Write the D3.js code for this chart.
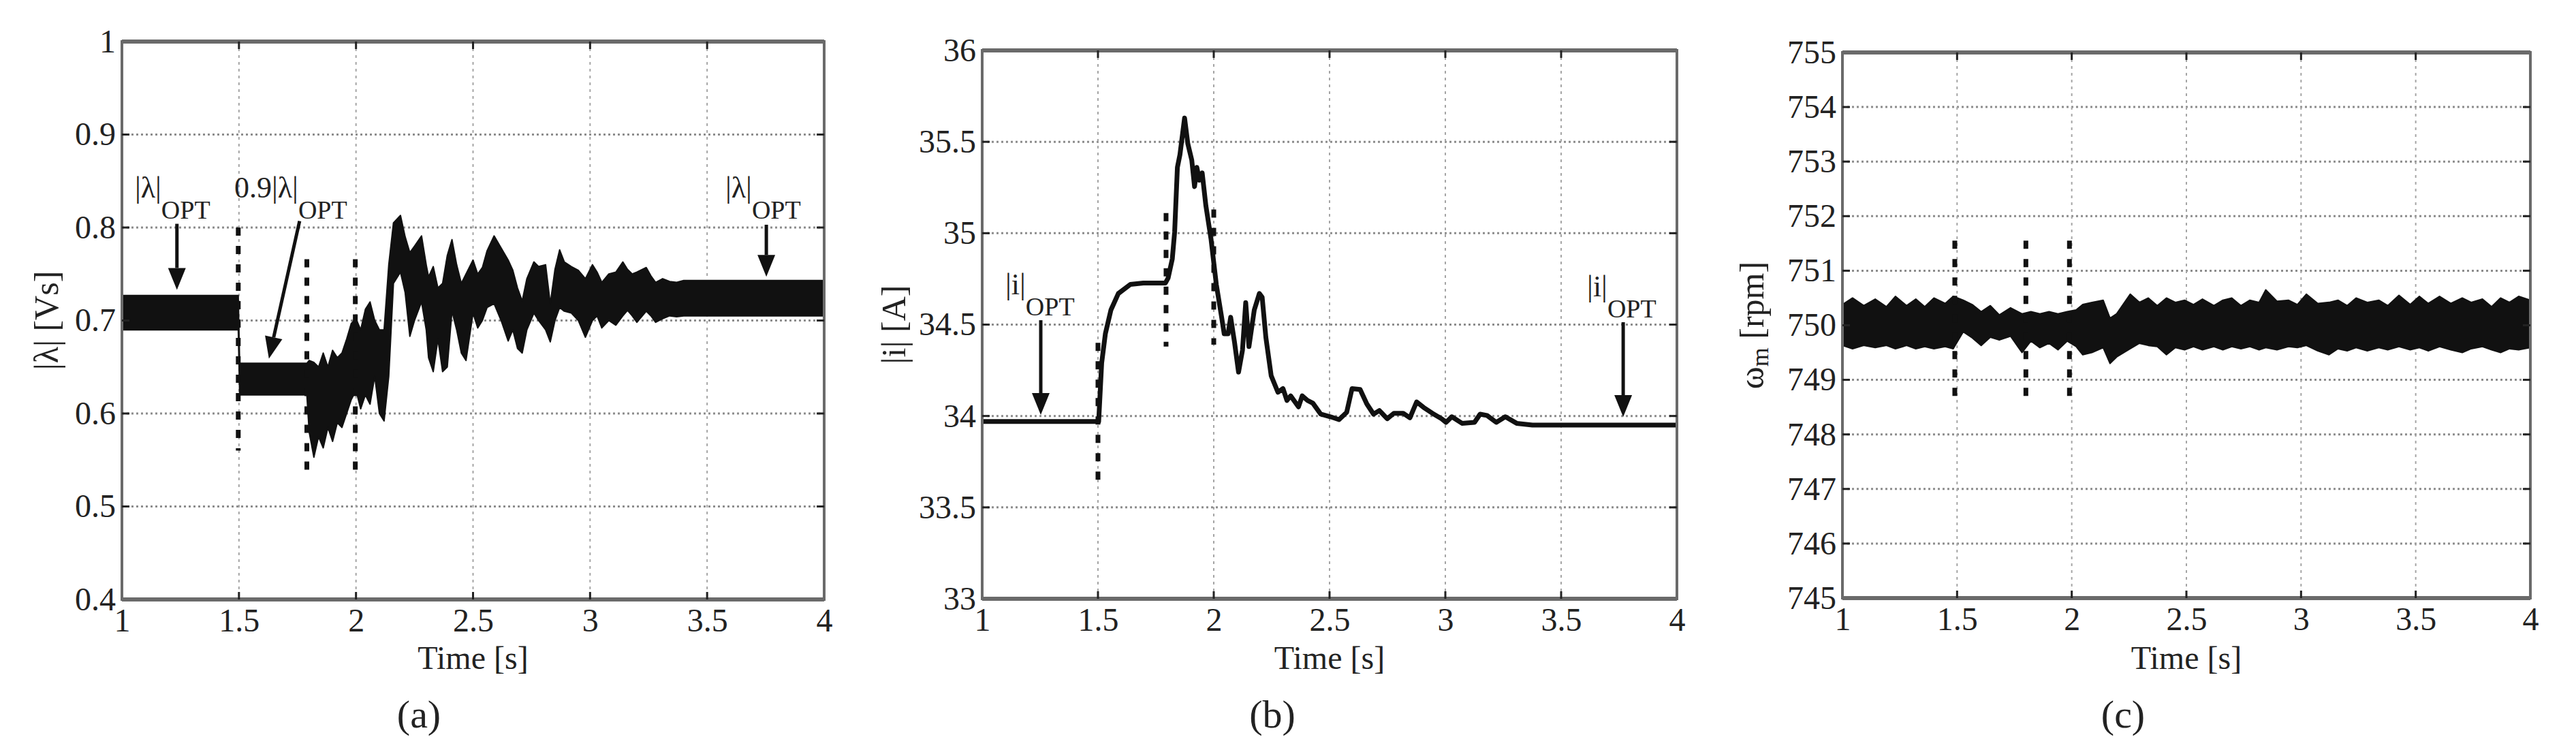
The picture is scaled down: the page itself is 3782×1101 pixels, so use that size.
<!DOCTYPE html>
<html>
<head>
<meta charset="utf-8">
<script src="https://cdn.jsdelivr.net/npm/d3@7"></script>
<style>
  body { margin: 0; background: #fff; }
  svg { display: block; font-family: "Liberation Serif", "Times New Roman", serif; }
</style>
</head>
<body>
<svg id="fig" width="3782" height="1101"></svg>
<script>
// ---- data ----
const timeTicks = [1, 1.5, 2, 2.5, 3, 3.5, 4];
const fluxTicks = [0.4, 0.5, 0.6, 0.7, 0.8, 0.9, 1];
const currentTicks = [33, 33.5, 34, 34.5, 35, 35.5, 36];
const speedTicks = [745, 746, 747, 748, 749, 750, 751, 752, 753, 754, 755];
const panelNames = ["(a)", "(b)", "(c)"];

// (a) flux magnitude: lower / upper envelope of the ripple band
const fluxTime = [1.00, 1.497, 1.503, 1.79, 1.80, 1.82, 1.84, 1.86, 1.88, 1.90, 1.92, 1.94, 1.96, 1.98, 2.00, 2.02, 2.04, 2.06, 2.08, 2.10,
  2.12, 2.14, 2.16, 2.19, 2.21, 2.23, 2.25, 2.28, 2.30, 2.31, 2.33, 2.35, 2.37, 2.39, 2.41, 2.43, 2.45, 2.47, 2.50, 2.52,
  2.54, 2.56, 2.59, 2.62, 2.65, 2.67, 2.69, 2.71, 2.73, 2.76, 2.78, 2.81, 2.83, 2.85, 2.87, 2.89, 2.92, 2.95, 2.98, 3.01,
  3.03, 3.05, 3.08, 3.11, 3.14, 3.16, 3.18, 3.20, 3.24, 3.26, 3.28, 3.31, 3.34, 3.37, 3.40, 4.00];
const fluxLow = [0.690, 0.690, 0.620, 0.620, 0.580, 0.553, 0.575, 0.563, 0.585, 0.570, 0.590, 0.585, 0.600, 0.615, 0.625, 0.605, 0.620, 0.610, 0.640, 0.600,
  0.592, 0.640, 0.740, 0.752, 0.730, 0.683, 0.700, 0.720, 0.690, 0.660, 0.645, 0.680, 0.645, 0.650, 0.710, 0.690, 0.665, 0.657, 0.708, 0.692,
  0.700, 0.714, 0.718, 0.700, 0.678, 0.690, 0.670, 0.665, 0.690, 0.708, 0.700, 0.690, 0.677, 0.700, 0.714, 0.710, 0.708, 0.700, 0.682, 0.700,
  0.705, 0.692, 0.700, 0.695, 0.705, 0.711, 0.705, 0.698, 0.710, 0.705, 0.698, 0.702, 0.705, 0.704, 0.705, 0.705];
const fluxHigh = [0.727, 0.727, 0.654, 0.654, 0.657, 0.655, 0.650, 0.665, 0.650, 0.668, 0.660, 0.665, 0.680, 0.697, 0.702, 0.690, 0.712, 0.720, 0.700, 0.690,
  0.690, 0.760, 0.805, 0.813, 0.790, 0.773, 0.780, 0.791, 0.760, 0.747, 0.758, 0.735, 0.740, 0.770, 0.787, 0.760, 0.740, 0.750, 0.765, 0.750,
  0.757, 0.775, 0.791, 0.778, 0.765, 0.754, 0.735, 0.721, 0.745, 0.763, 0.758, 0.760, 0.718, 0.755, 0.776, 0.763, 0.758, 0.754, 0.745, 0.760,
  0.752, 0.741, 0.750, 0.752, 0.763, 0.755, 0.750, 0.752, 0.757, 0.748, 0.741, 0.745, 0.742, 0.741, 0.743, 0.743];

// (b) current magnitude
const currentTime = [1.0, 1.497, 1.503, 1.516, 1.532, 1.556, 1.588, 1.64, 1.696, 1.791, 1.803, 1.821, 1.831, 1.843, 1.854, 1.874, 1.888, 1.905, 1.917, 1.927,
  1.938, 1.95, 1.966, 1.988, 2.011, 2.034, 2.045, 2.062, 2.073, 2.09, 2.107, 2.124, 2.138, 2.152, 2.175, 2.197, 2.209, 2.225, 2.248, 2.277,
  2.299, 2.316, 2.332, 2.366, 2.382, 2.405, 2.428, 2.462, 2.506, 2.541, 2.574, 2.597, 2.632, 2.661, 2.69, 2.715, 2.749, 2.778, 2.818, 2.847,
  2.876, 2.906, 2.944, 2.984, 3.003, 3.028, 3.072, 3.126, 3.15, 3.18, 3.22, 3.259, 3.308, 3.376, 4.0];
const currentValue = [33.97, 33.97, 33.97, 34.29, 34.45, 34.58, 34.67, 34.72, 34.727, 34.727, 34.755, 34.86, 35.005, 35.36, 35.43, 35.63, 35.49, 35.40, 35.255, 35.36,
  35.29, 35.33, 35.15, 34.97, 34.72, 34.54, 34.45, 34.45, 34.54, 34.40, 34.24, 34.36, 34.62, 34.38, 34.58, 34.67, 34.65, 34.43, 34.22, 34.13,
  34.15, 34.085, 34.11, 34.05, 34.11, 34.085, 34.07, 34.01, 33.995, 33.98, 34.02, 34.15, 34.145, 34.066, 34.01, 34.03, 33.985, 34.015, 34.015, 33.99,
  34.077, 34.047, 34.015, 33.985, 33.965, 33.996, 33.96, 33.965, 34.01, 34.003, 33.965, 33.996, 33.96, 33.95, 33.95];

// (c) rotor speed: lower / upper envelope of the noise band
const speedTime = [1.0, 1.044, 1.093, 1.143, 1.192, 1.231, 1.280, 1.320, 1.359, 1.399, 1.448, 1.483, 1.527, 1.566, 1.605, 1.645, 1.684, 1.733, 1.783, 1.822,
  1.861, 1.901, 1.940, 1.980, 2.019, 2.048, 2.088, 2.137, 2.167, 2.196, 2.255, 2.295, 2.334, 2.373, 2.413, 2.452, 2.492, 2.531, 2.570, 2.620,
  2.659, 2.698, 2.738, 2.777, 2.817, 2.846, 2.895, 2.945, 2.984, 3.023, 3.073, 3.122, 3.161, 3.201, 3.240, 3.289, 3.339, 3.378, 3.427, 3.476,
  3.516, 3.555, 3.604, 3.653, 3.703, 3.742, 3.791, 3.831, 3.870, 3.909, 3.949, 4.0];
const speedHigh = [750.38, 750.50, 750.36, 750.48, 750.34, 750.53, 750.36, 750.48, 750.34, 750.50, 750.40, 750.53, 750.46, 750.38, 750.25, 750.36, 750.19, 750.32, 750.21, 750.25,
  750.21, 750.25, 750.21, 750.25, 750.28, 750.38, 750.42, 750.46, 750.13, 750.21, 750.57, 750.42, 750.50, 750.36, 750.50, 750.42, 750.46, 750.38, 750.48, 750.36,
  750.46, 750.50, 750.36, 750.46, 750.42, 750.65, 750.44, 750.46, 750.38, 750.57, 750.40, 750.42, 750.46, 750.36, 750.50, 750.42, 750.46, 750.36, 750.55, 750.38,
  750.53, 750.40, 750.53, 750.40, 750.50, 750.42, 750.48, 750.34, 750.50, 750.42, 750.53, 750.46];
const speedLow = [749.63, 749.57, 749.63, 749.59, 749.63, 749.57, 749.63, 749.57, 749.61, 749.57, 749.61, 749.57, 749.88, 749.77, 749.63, 749.78, 749.73, 749.80, 749.50, 749.71,
  749.59, 749.67, 749.55, 749.71, 749.61, 749.46, 749.50, 749.59, 749.30, 749.42, 749.57, 749.67, 749.63, 749.61, 749.46, 749.59, 749.55, 749.61, 749.55, 749.61,
  749.55, 749.61, 749.57, 749.61, 749.55, 749.59, 749.55, 749.61, 749.59, 749.63, 749.53, 749.46, 749.57, 749.53, 749.59, 749.53, 749.59, 749.55, 749.61, 749.55,
  749.59, 749.53, 749.61, 749.55, 749.50, 749.57, 749.61, 749.55, 749.50, 749.57, 749.55, 749.59];

// event markers (thick dashed verticals): time, lower end, upper end
const fluxEventTime = [1.497, 1.79, 1.997];
const fluxEventLow = [0.56, 0.535, 0.535];
const fluxEventHigh = [0.80, 0.766, 0.766];
const currentEventTime = [1.5, 1.794, 2.0];
const currentEventLow = [33.65, 34.38, 34.39];
const currentEventHigh = [34.40, 35.11, 35.13];
const speedEventTime = [1.49, 1.80, 1.99];
const speedEventLow = [748.65, 748.65, 748.65];
const speedEventHigh = [751.55, 751.55, 751.55];

// annotations: text start (t, value), arrow (t, from, to)
const fluxNotes = [
  { main: "|λ|", sub: "OPT", t: 1.055, v: 0.832, at: 1.235, from: 0.804, to: 0.733 },
  { main: "0.9|λ|", sub: "OPT", t: 1.48, v: 0.832, at: null },
  { main: "|λ|", sub: "OPT", t: 3.578, v: 0.832, at: 3.753, from: 0.803, to: 0.747 }
];
const fluxSlantArrow = { t1: 1.759, v1: 0.807, t2: 1.628, v2: 0.659 };
const currentNotes = [
  { main: "|i|", sub: "OPT", t: 1.10, v: 34.666, at: 1.253, from: 34.524, to: 34.006 },
  { main: "|i|", sub: "OPT", t: 3.612, v: 34.655, at: 3.768, from: 34.513, to: 33.995 }
];

// ---- drawing ----
const svg = d3.select('#fig');
const ink = '#111';
const frameColour = '#6a6a6a';

function drawPanel(cfg) {
  const x = d3.scaleLinear().domain([1, 4]).range([cfg.left, cfg.right]);
  const y = d3.scaleLinear().domain([cfg.yTicks[0], cfg.yTicks[cfg.yTicks.length - 1]]).range([cfg.bottom, cfg.top]);
  const g = svg.append('g');

  // grid lines (dotted, matlab style)
  g.append('g').selectAll('line').data(cfg.yTicks.slice(1, -1)).join('line')
    .attr('x1', cfg.left).attr('x2', cfg.right)
    .attr('y1', d => y(d)).attr('y2', d => y(d))
    .attr('stroke', '#8c8c8c').attr('stroke-width', 3).attr('stroke-dasharray', '3,4');
  g.append('g').selectAll('line').data(timeTicks.slice(1, -1)).join('line')
    .attr('x1', d => x(d)).attr('x2', d => x(d))
    .attr('y1', cfg.top).attr('y2', cfg.bottom)
    .attr('stroke', '#a5a5a5').attr('stroke-width', 2).attr('stroke-dasharray', '4,6');

  // signal
  if (cfg.band) {
    const area = d3.area()
      .x((d, i) => x(cfg.band.t[i]))
      .y0((d, i) => y(cfg.band.lo[i]))
      .y1((d, i) => y(cfg.band.hi[i]));
    g.append('path').datum(cfg.band.t)
      .attr('d', area)
      .attr('fill', ink).attr('stroke', ink).attr('stroke-width', 2).attr('stroke-linejoin', 'round');
  }
  if (cfg.line) {
    const line = d3.line()
      .x((d, i) => x(cfg.line.t[i]))
      .y((d, i) => y(cfg.line.v[i]));
    g.append('path').datum(cfg.line.t)
      .attr('d', line)
      .attr('fill', 'none').attr('stroke', ink).attr('stroke-width', 7).attr('stroke-linejoin', 'round');
  }

  // event markers
  g.append('g').selectAll('line').data(cfg.events.t).join('line')
    .attr('x1', d => x(d)).attr('x2', d => x(d))
    .attr('y1', (d, i) => y(cfg.events.hi[i])).attr('y2', (d, i) => y(cfg.events.lo[i]))
    .attr('stroke', ink).attr('stroke-width', 7).attr('stroke-dasharray', '12,15');

  // frame
  g.append('rect')
    .attr('x', cfg.left).attr('y', cfg.top)
    .attr('width', cfg.right - cfg.left).attr('height', cfg.bottom - cfg.top)
    .attr('fill', 'none').attr('stroke', frameColour).attr('stroke-width', 4);
  g.append('g').selectAll('line').data([cfg.top, cfg.bottom]).join('line')
    .attr('x1', cfg.left).attr('x2', cfg.right).attr('y1', d => d).attr('y2', d => d)
    .attr('stroke', frameColour).attr('stroke-width', 6);

  // inward ticks
  const tk = g.append('g').attr('stroke', '#222').attr('stroke-width', 3);
  timeTicks.slice(1, -1).forEach(t => {
    tk.append('line').attr('x1', x(t)).attr('x2', x(t)).attr('y1', cfg.bottom).attr('y2', cfg.bottom - 11);
    tk.append('line').attr('x1', x(t)).attr('x2', x(t)).attr('y1', cfg.top).attr('y2', cfg.top + 11);
  });
  cfg.yTicks.slice(1, -1).forEach(v => {
    tk.append('line').attr('x1', cfg.left).attr('x2', cfg.left + 11).attr('y1', y(v)).attr('y2', y(v));
    tk.append('line').attr('x1', cfg.right).attr('x2', cfg.right - 11).attr('y1', y(v)).attr('y2', y(v));
  });

  // tick labels via d3 axes
  const xAxis = g.append('g')
    .attr('transform', `translate(0,${cfg.bottom})`)
    .call(d3.axisBottom(x).tickValues(timeTicks).tickSize(0).tickPadding(13).tickFormat(d3.format('~g')));
  const yAxis = g.append('g')
    .attr('transform', `translate(${cfg.left},0)`)
    .call(d3.axisLeft(y).tickValues(cfg.yTicks).tickSize(0).tickPadding(9).tickFormat(d3.format('~g')));
  [xAxis, yAxis].forEach(a => {
    a.select('.domain').remove();
    a.attr('font-family', null).attr('font-size', null);
    a.selectAll('text').attr('font-size', 48).attr('fill', '#222');
  });

  // axis titles
  g.append('text')
    .attr('x', (cfg.left + cfg.right) / 2).attr('y', 982)
    .attr('text-anchor', 'middle').attr('font-size', 48).attr('fill', '#222')
    .text('Time [s]');
  const yl = g.append('text')
    .attr('transform', `translate(${cfg.yLabelX},${(cfg.top + cfg.bottom) / 2}) rotate(-90)`)
    .attr('text-anchor', 'middle').attr('dominant-baseline', 'central')
    .attr('font-size', 50).attr('fill', '#222');
  cfg.yLabel(yl);

  // panel caption
  svg.append('text')
    .attr('x', cfg.captionX).attr('y', 1068)
    .attr('text-anchor', 'middle').attr('font-size', 58).attr('fill', '#222')
    .text(cfg.caption);

  // annotations
  (cfg.notes || []).forEach(n => {
    const tx = g.append('text').attr('x', x(n.t)).attr('y', y(n.v)).attr('fill', '#222');
    tx.append('tspan').attr('font-size', 44).text(n.main);
    tx.append('tspan').attr('font-size', 38).attr('dy', 31).text(n.sub);
    if (n.at !== null) arrow(g, x(n.at), y(n.from), x(n.at), y(n.to));
  });
  if (cfg.slant) {
    const s = cfg.slant;
    arrow(g, x(s.t1), y(s.v1), x(s.t2), y(s.v2));
  }
}

function arrow(g, x1, y1, x2, y2) {
  const ang = Math.atan2(y2 - y1, x2 - x1);
  const len = 32, half = 13;
  const bx = x2 - len * Math.cos(ang), by = y2 - len * Math.sin(ang);
  g.append('line').attr('x1', x1).attr('y1', y1).attr('x2', bx).attr('y2', by)
    .attr('stroke', ink).attr('stroke-width', 5);
  const px = -Math.sin(ang) * half, py = Math.cos(ang) * half;
  g.append('path')
    .attr('d', `M${x2},${y2}L${bx + px},${by + py}L${bx - px},${by - py}Z`)
    .attr('fill', ink);
}

drawPanel({
  left: 179, right: 1210, top: 61, bottom: 880,
  yTicks: fluxTicks, yLabelX: 68, captionX: 615, caption: panelNames[0],
  band: { t: fluxTime, lo: fluxLow, hi: fluxHigh },
  events: { t: fluxEventTime, lo: fluxEventLow, hi: fluxEventHigh },
  notes: fluxNotes, slant: fluxSlantArrow,
  yLabel: t => t.text('|λ| [Vs]')
});

drawPanel({
  left: 1442, right: 2462, top: 74, bottom: 879,
  yTicks: currentTicks, yLabelX: 1312, captionX: 1868, caption: panelNames[1],
  line: { t: currentTime, v: currentValue },
  events: { t: currentEventTime, lo: currentEventLow, hi: currentEventHigh },
  notes: currentNotes,
  yLabel: t => t.text('|i| [A]')
});

drawPanel({
  left: 2705, right: 3715, top: 77, bottom: 878,
  yTicks: speedTicks, yLabelX: 2572, captionX: 3117, caption: panelNames[2],
  band: { t: speedTime, lo: speedLow, hi: speedHigh },
  events: { t: speedEventTime, lo: speedEventLow, hi: speedEventHigh },
  yLabel: t => {
    t.append('tspan').text('ω');
    t.append('tspan').attr('font-size', 36).attr('dy', 12).text('m');
    t.append('tspan').attr('dy', -12).text(' [rpm]');
  }
});
</script>
</body>
</html>
